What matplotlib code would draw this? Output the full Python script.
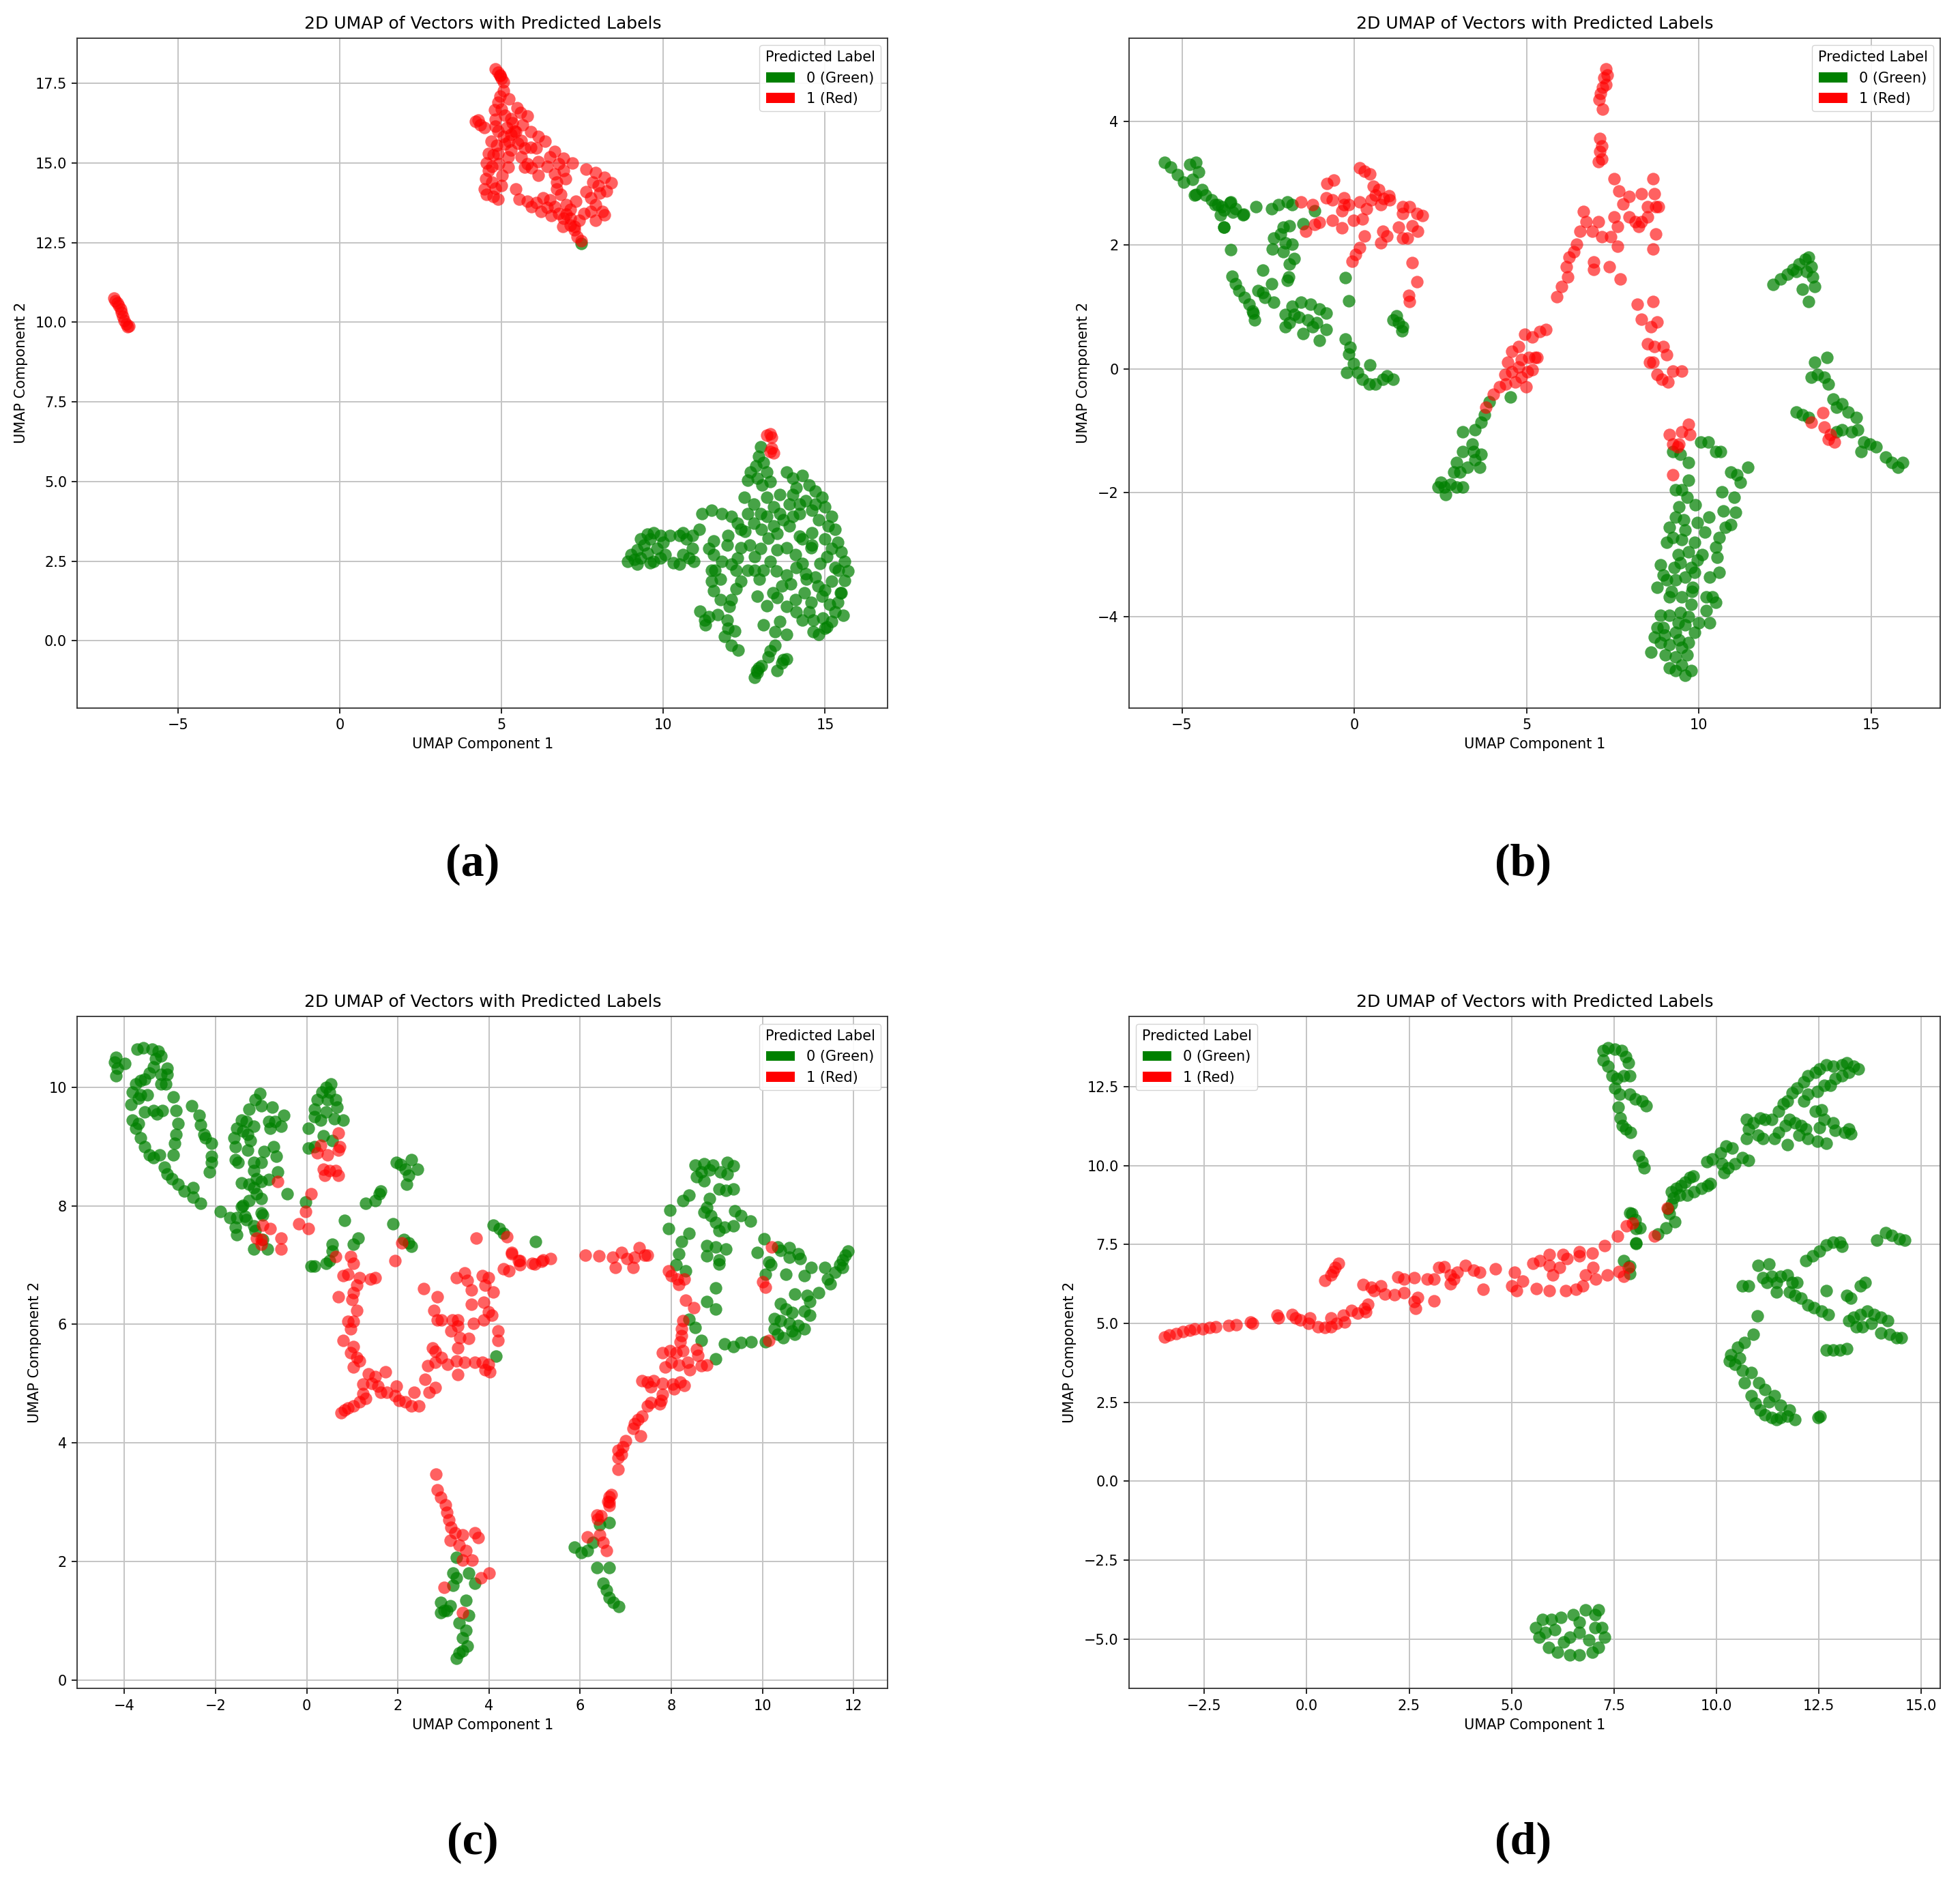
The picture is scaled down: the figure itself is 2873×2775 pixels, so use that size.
import numpy as np
import matplotlib
matplotlib.use("Agg")
import matplotlib.pyplot as plt
from matplotlib.patches import Patch

# ---------------- DATA ----------------
TITLE = "2D UMAP of Vectors with Predicted Labels"
XLABEL = "UMAP Component 1"
YLABEL = "UMAP Component 2"
LEGEND_TITLE = "Predicted Label"
LEGEND_LABELS = ["0 (Green)", "1 (Red)"]
CAPTIONS = ["(a)", "(b)", "(c)", "(d)"]

# ---- panel (a) ----
a_red = [
    (-6.98, 10.75), (-6.93, 10.68), (-6.88, 10.6), (-6.83, 10.52), (-6.78, 10.42), (-6.74, 10.3),
    (-6.7, 10.18), (-6.66, 10.05), (-6.6, 9.95), (-6.55, 9.85), (-6.52, 9.88),
    (4.8, 17.95), (4.88, 17.85), (4.95, 17.75), (5.0, 17.65), (5.05, 17.55), (4.95, 17.76),
    (5.06, 17.26), (4.95, 17.09), (5.23, 17.01), (4.78, 16.66), (5.48, 16.73), (5.58, 16.59),
    (5.79, 16.48), (4.28, 16.34), (4.46, 16.12), (4.81, 16.37), (4.81, 16.16), (5.16, 16.12),
    (5.34, 16.26), (5.65, 16.19), (5.44, 15.98), (5.9, 15.98), (6.14, 15.84), (6.35, 15.69),
    (4.67, 15.69), (4.85, 15.55), (5.06, 15.84), (5.23, 15.69), (5.51, 15.62), (5.72, 15.48),
    (6.07, 15.48), (5.3, 15.41), (4.74, 15.26), (4.53, 15.01), (4.6, 14.76), (4.92, 14.98),
    (5.2, 14.87), (5.02, 14.62), (5.79, 14.98), (5.72, 14.87), (6.14, 15.05), (6.14, 14.62),
    (5.93, 14.84), (6.49, 15.19), (6.63, 15.37), (6.91, 15.16), (7.19, 15.01), (6.77, 14.98),
    (6.91, 14.76), (6.63, 14.66), (6.98, 14.51), (7.62, 14.8), (7.9, 14.69), (8.18, 14.55),
    (8.39, 14.37), (7.83, 14.41), (8.25, 14.12), (8.04, 14.05), (7.76, 13.91), (7.9, 13.69),
    (8.11, 13.48), (8.18, 13.37), (7.55, 13.41), (7.76, 13.48), (4.46, 14.19), (4.53, 14.01),
    (4.74, 13.94), (4.88, 13.87), (5.44, 14.19), (5.55, 13.87), (5.93, 13.62), (6.07, 13.76),
    (6.28, 13.91), (6.49, 13.84), (6.7, 14.19), (6.84, 14.01), (6.63, 13.62), (6.77, 13.41),
    (6.91, 13.26), (7.12, 13.55), (7.12, 13.05), (7.26, 12.91), (7.33, 12.69), (7.47, 12.55),
    (6.21, 13.48), (6.53, 13.34), (7.12, 13.26), (7.4, 13.19), (4.2, 16.3), (4.35, 16.2),
    (4.9, 16.9), (5.1, 16.5), (5.4, 16.0), (4.9, 15.3), (4.7, 14.4), (5.0, 14.3),
    (5.1, 15.6), (5.3, 15.9), (5.6, 15.7), (5.9, 15.5), (4.6, 15.3), (4.7, 14.9), (4.5, 14.5),
    (4.8, 14.2), (5.2, 15.2), (5.6, 15.2), (6.4, 14.9), (6.7, 14.4), (7.0, 13.7), (7.3, 13.8),
    (7.6, 14.1), (8.0, 14.3), (7.9, 13.2), (6.9, 13.0), (6.4, 13.6), (5.8, 13.8), (4.9, 16.0),
    (5.0, 16.7), (5.3, 16.4), (7.0, 13.4), (7.25, 13.0),
    (13.2, 6.45), (13.3, 6.5), (13.35, 6.4), (13.35, 6.05), (13.4, 5.9), (13.3, 5.95),
]
a_green = [
    (7.47, 12.48),
    (8.9, 2.5), (9.0, 2.7), (9.1, 2.55), (9.2, 2.85), (9.3, 2.6), (9.4, 3.0), (9.5, 2.75),
    (9.6, 3.2), (9.7, 2.5), (9.8, 2.9), (9.9, 3.3), (10.0, 3.1), (9.3, 3.2), (9.5, 3.35),
    (9.7, 3.4), (9.9, 2.6), (10.05, 2.7), (10.3, 2.45), (10.5, 2.4), (10.6, 2.7), (10.8, 2.6),
    (10.9, 2.9), (10.7, 3.2), (10.5, 3.3), (10.6, 3.4), (10.2, 3.3), (10.95, 2.5), (10.9, 3.3),
    (9.2, 2.4), (9.6, 2.45),
    (13.0, 6.1), (12.95, 5.8), (12.85, 5.5), (12.7, 5.3), (12.6, 5.05), (13.1, 5.6), (13.2, 5.3),
    (13.3, 5.0), (12.9, 5.1), (13.05, 4.9),
    (13.8, 5.3), (14.0, 5.1), (14.1, 4.8), (14.3, 5.2), (14.5, 4.9), (14.7, 4.7), (14.9, 4.5),
    (15.0, 4.2), (15.2, 3.9), (14.4, 4.4), (14.2, 4.0), (13.9, 4.3), (13.6, 4.6), (13.4, 4.2),
    (13.2, 4.5), (14.6, 4.1), (14.8, 3.8), (13.7, 3.8), (15.3, 3.5), (15.4, 3.1), (15.5, 2.8),
    (15.6, 2.5), (15.7, 2.2), (15.6, 1.9), (15.5, 1.5), (15.4, 1.2), (15.3, 0.9), (15.2, 0.6),
    (15.0, 0.4), (14.8, 0.2),
    (11.2, 4.0), (11.5, 4.1), (11.8, 4.0), (12.1, 3.9), (12.3, 3.7), (11.1, 3.5),
    (11.55, 3.14), (11.97, 3.0), (11.55, 2.71), (11.59, 2.21), (11.76, 1.93), (11.55, 1.57),
    (11.76, 1.29), (12.11, 1.29), (12.25, 1.64), (12.04, 1.07), (11.97, 0.64), (11.9, 0.14),
    (12.11, -0.14), (12.32, -0.29), (11.27, 0.64), (11.13, 0.93), (11.69, 0.82), (12.4, 1.86),
    (12.6, 2.21), (12.96, 1.93), (12.82, 2.64), (12.53, 3.43), (12.4, 2.93), (13.24, 3.21),
    (13.52, 2.86), (13.8, 2.93), (14.08, 2.71), (14.29, 2.43), (13.8, 2.07), (13.66, 1.71),
    (13.52, 1.36), (13.8, 1.07), (14.08, 1.29), (14.36, 1.5), (14.57, 1.21), (14.29, 0.64),
    (14.64, 0.64), (14.64, 0.29), (14.92, 0.71), (15.13, 1.14), (15.2, 1.86), (15.06, 2.64),
    (15.41, 2.21), (15.48, 1.5), (15.55, 0.79), (15.06, 0.43), (13.45, 0.29), (13.8, 0.21),
    (13.31, -0.32), (13.45, -0.14), (13.24, -0.5), (13.66, -0.71), (13.8, -0.57), (12.89, -0.93),
    (12.82, -1.14), (13.03, -0.79), (13.52, -0.93), (13.38, 1.5), (13.94, 1.79), (14.43, 1.93),
    (14.78, 1.71), (14.85, 2.43), (14.57, 2.93), (14.22, 3.29), (13.1, 2.21), (12.82, 2.21),
    (12.68, 3.0), (13.03, 3.5), (13.52, 3.36), (12.25, 2.21), (11.48, 2.21), (11.48, 1.86),
    (12.0, 3.3), (12.4, 3.5), (12.6, 4.0), (12.8, 4.3), (13.0, 4.0), (12.5, 4.5), (13.4, 3.6),
    (13.9, 3.6), (14.6, 3.4), (15.0, 3.2), (14.3, 3.2),
    (14.1, 2.3), (14.4, 2.1), (14.7, 2.0), (14.9, 1.4), (14.5, 0.9), (14.1, 0.9), (13.6, 0.6),
    (13.1, 0.5), (13.2, 1.1), (12.9, 1.4), (12.3, 2.6), (12.1, 2.4), (11.8, 2.5), (11.4, 2.9),
    (13.6, 4.0), (14.0, 4.6), (14.6, 3.0), (15.2, 2.9), (15.3, 2.3), (15.0, 1.6), (13.0, 2.9),
    (13.3, 2.5), (13.5, 2.2), (12.2, 0.3), (12.0, 0.4), (11.3, 0.5), (11.4, 0.75), (13.7, -0.6),
    (12.9, -1.0), (12.95, -0.85), (15.1, 3.6), (14.7, 4.3), (14.2, 4.3), (14.0, 3.9), (12.8, 3.7),
    (13.2, 3.9),
]

# ---- panel (b) ----
b_green = [
    (-5.5, 3.34), (-5.33, 3.26), (-5.14, 3.14), (-4.96, 3.02), (-4.78, 3.3), (-4.6, 3.34),
    (-4.51, 3.18), (-4.69, 3.06), (-4.42, 2.9), (-4.6, 2.82), (-4.15, 2.73), (-3.97, 2.65),
    (-3.79, 2.57), (-3.61, 2.69), (-3.88, 2.49), (-3.52, 2.53), (-3.24, 2.49), (-3.79, 2.29),
    (-4.64, 2.81), (-4.31, 2.81), (-4.05, 2.66), (-3.85, 2.62), (-3.59, 2.7), (-3.45, 2.59),
    (-3.22, 2.5), (-2.86, 2.62), (-3.78, 2.29), (-3.59, 1.93), (-3.55, 1.5), (-3.45, 1.38),
    (-3.35, 1.27), (-3.19, 1.16), (-3.06, 1.05), (-2.96, 0.94), (-2.9, 0.79), (-2.93, 0.9),
    (-2.8, 1.27), (-2.66, 1.23), (-2.4, 1.38), (-2.34, 1.08), (-2.6, 1.16), (-2.66, 1.6),
    (-2.4, 2.59), (-2.2, 2.66), (-1.94, 2.7), (-1.81, 2.66), (-2.34, 2.11), (-2.14, 2.18),
    (-2.01, 2.04), (-1.81, 2.02), (-2.37, 1.94), (-2.07, 1.89), (-2.07, 2.29), (-1.88, 2.31),
    (-1.74, 1.78), (-1.88, 1.69), (-1.91, 1.49), (-1.94, 1.43), (-1.48, 2.35), (-1.15, 2.55),
    (-2.01, 0.88), (-1.81, 1.01), (-1.55, 1.08), (-1.28, 1.05), (-1.02, 0.97), (-0.82, 0.9),
    (-1.88, 0.75), (-1.61, 0.83), (-1.35, 0.79), (-1.09, 0.75), (-1.48, 0.57), (-1.22, 0.68),
    (-1.02, 0.46), (-0.82, 0.64), (-2.01, 0.68), (-1.74, 0.88),
    (-0.26, 1.47), (-0.16, 1.1), (-0.26, 0.48), (-0.13, 0.35), (-0.16, 0.24), (-0.03, 0.09),
    (-0.23, -0.06), (0.1, -0.06), (0.23, -0.17), (0.43, -0.24), (0.62, -0.24), (0.82, -0.17),
    (0.95, -0.11), (1.12, -0.17), (0.46, 0.06),
    (1.22, 0.86), (1.28, 0.75), (1.41, 0.68), (1.38, 0.61), (1.12, 0.79),
    (3.91, -0.53), (4.53, -0.45), (3.77, -0.74), (3.68, -0.86), (3.5, -0.98), (3.15, -1.02),
    (3.42, -1.22), (3.15, -1.34), (2.97, -1.51), (2.88, -1.67), (3.06, -1.67), (3.28, -1.59),
    (3.5, -1.47), (3.68, -1.38), (3.46, -1.34), (3.64, -1.59), (3.15, -1.91), (2.97, -1.91),
    (2.79, -1.87), (2.61, -1.91), (2.43, -1.91), (2.65, -2.03), (2.52, -1.83),
    (9.24, -1.34), (9.47, -1.38), (9.69, -1.51), (10.05, -1.18), (10.27, -1.18), (10.49, -1.34),
    (10.62, -1.34), (10.93, -1.67), (11.11, -1.71), (11.2, -1.83), (11.42, -1.59), (10.67, -1.99),
    (11.02, -2.07), (11.07, -2.32), (10.93, -2.52), (10.76, -2.56), (10.58, -2.72), (10.49, -2.88),
    (10.54, -3.04), (10.58, -3.29), (10.31, -3.37), (10.4, -3.69), (10.49, -3.77), (10.22, -3.69),
    (10.18, -2.64), (9.96, -2.48), (9.87, -2.8), (9.96, -3.09), (9.87, -3.29), (9.82, -3.53),
    (9.51, -1.95), (9.33, -1.95), (9.65, -2.07), (9.42, -2.23), (9.33, -2.4), (9.56, -2.44),
    (9.15, -2.56), (9.24, -2.72), (9.06, -2.8), (9.51, -2.76), (9.69, -2.96), (9.47, -3.13),
    (9.29, -3.21), (8.88, -3.17), (8.97, -3.33), (8.79, -3.53), (9.06, -3.41), (9.33, -3.41),
    (9.6, -3.37), (9.78, -3.21), (9.51, -3.69), (9.15, -3.69), (8.88, -3.98), (9.15, -3.98),
    (9.47, -3.94), (9.78, -3.81), (10.0, -4.1), (8.79, -4.18), (8.97, -4.18), (9.33, -4.26),
    (9.6, -4.14), (9.87, -4.26), (8.7, -4.34), (8.88, -4.42), (9.15, -4.46), (9.42, -4.38),
    (9.69, -4.42), (8.61, -4.58), (9.02, -4.62), (9.33, -4.66), (9.65, -4.62), (9.15, -4.83),
    (9.33, -4.87), (9.6, -4.95), (9.78, -4.87), (9.51, -4.79), (10.31, -4.1), (10.22, -3.9),
    (9.4, -3.0), (9.6, -2.6), (9.2, -3.6), (9.4, -4.1), (9.7, -4.0), (9.0, -4.3), (9.5, -4.5),
    (9.8, -3.6), (10.1, -3.0), (10.3, -2.4), (10.7, -2.3), (9.9, -2.2), (9.7, -1.8),
    (12.15, 1.37), (12.38, 1.45), (12.56, 1.53), (12.73, 1.61), (12.91, 1.69), (13.09, 1.77),
    (13.18, 1.81), (13.27, 1.65), (13.31, 1.49), (13.36, 1.33), (13.0, 1.29), (13.18, 1.09),
    (13.13, 1.57), (12.82, 1.57),
    (13.36, 0.11), (13.72, 0.18), (13.27, -0.13), (13.45, -0.09), (13.63, -0.13), (13.76, -0.25),
    (13.9, -0.49), (14.16, -0.57), (14.34, -0.7), (14.57, -0.78), (14.43, -1.02), (14.61, -0.98),
    (14.79, -1.18), (14.97, -1.22), (15.15, -1.26), (15.42, -1.43), (15.6, -1.51), (15.78, -1.59),
    (15.92, -1.51), (12.82, -0.7), (13.0, -0.74), (13.18, -0.78), (13.99, -1.02), (14.16, -0.98),
    (14.7, -1.34), (13.99, -0.62),
]
b_red = [
    (-1.55, 2.7), (-1.22, 2.66), (-1.41, 2.22), (-1.15, 2.33), (-1.02, 2.37), (-0.82, 2.77),
    (-0.63, 2.73), (-0.3, 2.77), (-0.63, 2.4), (-0.36, 2.28), (-0.36, 2.55), (-0.16, 2.66),
    (-0.03, 2.4), (0.16, 2.7), (0.23, 2.42), (0.36, 2.59), (0.49, 2.73), (0.62, 2.81),
    (0.76, 2.66), (1.02, 2.73), (1.41, 2.62), (1.61, 2.62), (1.81, 2.51), (1.97, 2.48),
    (1.68, 2.31), (1.84, 2.22), (1.28, 2.29), (1.41, 2.11), (1.55, 2.11), (0.82, 2.22),
    (0.95, 2.15), (0.76, 2.04), (0.3, 2.15), (0.16, 1.96), (0.03, 1.85), (-0.07, 1.74),
    (1.68, 1.72), (1.81, 1.41), (1.58, 1.19), (1.61, 1.09), (1.41, 2.51),
    (-0.8, 3.0), (-0.6, 3.05), (0.15, 3.25), (0.3, 3.2), (0.45, 3.15), (0.55, 2.95),
    (0.7, 2.9), (0.85, 2.75), (1.0, 2.8), (-0.3, 2.65),
    (7.3, 4.85), (7.35, 4.75), (7.25, 4.7), (7.2, 4.55), (7.15, 4.45), (7.3, 4.6), (7.1, 4.35),
    (7.2, 4.2), (7.13, 3.72), (7.18, 3.6), (7.13, 3.51), (7.18, 3.39), (7.09, 3.35),
    (7.54, 3.07), (7.67, 2.87), (7.98, 2.79), (8.34, 2.83), (8.66, 3.07), (8.7, 2.83),
    (8.74, 2.62), (8.52, 2.62), (8.83, 2.62), (7.8, 2.67), (7.98, 2.46), (8.16, 2.38),
    (8.34, 2.38), (8.52, 2.46), (7.54, 2.46), (7.63, 2.3), (7.45, 2.14), (7.18, 2.14),
    (7.09, 2.38), (6.91, 2.22), (6.73, 2.38), (6.64, 2.54), (6.55, 2.22), (6.46, 2.02),
    (6.37, 1.89), (6.24, 1.81), (6.15, 1.65), (6.19, 1.49), (6.01, 1.33), (5.88, 1.17),
    (7.63, 1.98), (6.95, 1.73), (6.95, 1.61), (7.4, 1.65), (7.71, 1.45), (8.74, 2.18),
    (8.66, 1.94), (8.25, 2.3),
    (8.21, 1.04), (8.66, 1.09), (8.34, 0.8), (8.61, 0.68), (8.79, 0.76), (8.52, 0.4),
    (8.7, 0.36), (8.97, 0.36), (9.06, 0.23), (8.66, 0.11), (8.79, -0.09), (8.92, -0.17),
    (9.1, -0.21), (9.24, -0.03), (9.51, -0.03), (8.57, 0.11),
    (5.56, 0.64), (5.39, 0.6), (5.16, 0.52), (4.94, 0.56), (4.76, 0.36), (4.58, 0.28),
    (4.45, 0.11), (4.38, -0.09), (4.22, -0.29), (4.4, -0.25), (4.66, -0.21), (4.85, -0.13),
    (5.03, -0.05), (5.16, -0.01), (5.25, 0.19), (5.07, 0.19), (4.98, -0.29), (4.76, 0.03),
    (4.58, -0.05), (4.85, 0.15), (5.31, 0.19), (4.04, -0.41), (3.82, -0.62),
    (9.15, -1.06), (9.51, -1.02), (9.69, -0.9), (9.74, -1.06), (9.24, -1.22), (9.38, -1.26),
    (9.42, -1.22), (9.24, -1.71),
    (13.59, -0.71), (13.27, -0.86), (13.63, -0.94), (13.76, -1.14), (13.94, -1.18), (13.81, -1.06),
]

# ---- panel (c) ----
c_green = [
    (-4.22, 10.42), (-4.19, 10.5), (-4.15, 10.32), (-4.19, 10.19), (-3.99, 10.4), (-3.72, 10.64),
    (-3.59, 10.66), (-3.39, 10.64), (-3.26, 10.61), (-3.19, 10.53), (-3.32, 10.48), (-3.36, 10.34),
    (-3.45, 10.24), (-3.55, 10.13), (-3.65, 10.11), (-3.75, 10.05), (-3.19, 10.21), (-3.06, 10.32),
    (-3.06, 10.21), (-3.09, 10.05), (-3.19, 10.05), (-3.82, 9.92), (-3.65, 9.87), (-3.49, 9.87),
    (-3.85, 9.71), (-3.69, 9.81), (-3.55, 9.58), (-3.36, 9.6), (-3.16, 9.6), (-3.29, 9.55),
    (-3.82, 9.44), (-3.69, 9.39), (-3.75, 9.31), (-3.65, 9.15), (-3.55, 8.99), (-3.45, 8.86),
    (-3.36, 8.81), (-3.22, 8.86), (-3.12, 8.65), (-3.06, 8.54), (-2.96, 8.46), (-2.82, 8.36),
    (-2.69, 8.25), (-2.49, 8.3), (-2.49, 8.14), (-2.33, 8.04), (-2.92, 9.84), (-2.86, 9.6),
    (-2.82, 9.39), (-2.86, 9.2), (-2.89, 9.05), (-2.92, 8.86), (-2.52, 9.68), (-2.36, 9.52),
    (-2.33, 9.36), (-2.26, 9.2), (-2.23, 9.15), (-2.09, 9.05), (-2.09, 8.83), (-2.09, 8.73),
    (-2.13, 8.57),
    (-1.89, 7.9), (-1.69, 7.8), (-1.53, 7.8), (-1.56, 7.64), (-1.53, 7.51), (-1.36, 7.82),
    (-1.33, 7.77), (-1.16, 7.66), (-1.16, 7.27), (-1.4, 8.01), (-1.26, 8.09), (-0.99, 7.88),
    (-1.13, 7.58), (-0.96, 7.43), (-0.86, 7.27), (-1.56, 8.78), (-1.5, 8.73), (-1.56, 8.99),
    (-1.59, 9.15), (-1.53, 9.31), (-1.43, 9.44), (-1.33, 9.42), (-1.4, 9.26), (-1.3, 9.2),
    (-1.23, 9.1), (-1.3, 8.94), (-1.26, 9.63), (-1.13, 9.79), (-1.03, 9.89), (-0.99, 9.68),
    (-0.76, 9.66), (-1.16, 9.34), (-0.83, 9.42), (-0.7, 9.42), (-0.56, 9.34), (-0.5, 9.52),
    (-0.8, 9.31), (-0.73, 8.99), (-0.93, 8.91), (-1.16, 8.73), (-0.99, 8.73), (-0.66, 8.83),
    (-0.63, 8.57), (-1.16, 8.59), (-1.1, 8.46), (-1.43, 8.38), (-1.26, 8.36), (-1.16, 8.3),
    (-0.99, 8.41), (-0.83, 8.44), (-1.1, 8.2), (-0.99, 8.12), (-1.43, 7.98), (-0.96, 7.85),
    (-0.43, 8.2),
    (-0.03, 8.06), (0.03, 9.31), (0.17, 8.99), (0.03, 8.97), (0.17, 9.63), (0.23, 9.79),
    (0.33, 9.92), (0.43, 10.0), (0.53, 10.05), (0.5, 9.92), (0.46, 9.79), (0.63, 9.79),
    (0.66, 9.66), (0.8, 9.44), (0.6, 9.47), (0.43, 9.58), (0.3, 9.44), (0.37, 9.18),
    (0.56, 9.1), (0.17, 9.5),
    (0.83, 7.75), (1.3, 8.04), (1.5, 8.09), (1.6, 8.2), (1.63, 8.25), (1.89, 7.69),
    (2.06, 8.7), (2.16, 8.62), (2.29, 8.78), (2.43, 8.62), (2.23, 8.51), (2.19, 8.36),
    (1.96, 8.73), (2.13, 7.43), (2.23, 7.37), (2.29, 7.32), (1.03, 7.35), (1.13, 7.45),
    (0.56, 7.35), (0.56, 7.24), (0.5, 7.08), (0.17, 6.98), (0.1, 6.98), (0.43, 7.03),
    (4.09, 7.67), (4.22, 7.61), (4.32, 7.53), (5.02, 7.4), (4.15, 5.46),
    (8.52, 8.69), (8.71, 8.71), (8.91, 8.69), (9.23, 8.73), (9.36, 8.67), (8.65, 8.57),
    (8.84, 8.61), (8.55, 8.49), (8.71, 8.42), (9.07, 8.57), (9.23, 8.53), (9.04, 8.28),
    (9.2, 8.26), (9.36, 8.28), (8.39, 8.18), (8.26, 8.09), (8.84, 8.12), (8.78, 7.97),
    (8.71, 7.89), (8.87, 7.83), (8.97, 7.72), (9.04, 7.58), (9.17, 7.64), (9.36, 7.66),
    (9.39, 7.91), (9.52, 7.83), (9.74, 7.74), (7.97, 7.93), (7.94, 7.62), (8.39, 7.54),
    (8.23, 7.4), (8.16, 7.19), (8.1, 7.0), (8.32, 6.9), (8.78, 7.33), (8.97, 7.31),
    (9.2, 7.27), (8.78, 7.15), (9.04, 7.09), (9.04, 7.02), (8.97, 6.61), (8.78, 6.39),
    (8.97, 6.26), (8.39, 6.08), (8.52, 5.95), (8.65, 5.73), (8.97, 5.42), (9.17, 5.67),
    (9.36, 5.63), (9.52, 5.69), (9.75, 5.71), (10.07, 5.71),
    (10.04, 7.44), (9.88, 7.21), (10.33, 7.31), (10.4, 7.25), (10.59, 7.29), (10.59, 7.13),
    (10.78, 7.19), (10.82, 7.11), (10.14, 7.05), (10.18, 7.0), (10.07, 6.84), (10.52, 6.84),
    (10.91, 6.82), (11.07, 6.96), (11.36, 6.96), (11.42, 6.76), (11.59, 6.88), (11.69, 7.0),
    (11.75, 7.09), (11.82, 7.17), (11.88, 7.23), (11.75, 6.96), (11.49, 6.68), (10.71, 6.51),
    (10.97, 6.49), (11.23, 6.53), (11.04, 6.39), (10.91, 6.22), (11.04, 6.16), (10.4, 6.35),
    (10.52, 6.26), (10.65, 6.2), (10.26, 6.1), (10.4, 6.06), (10.59, 6.02), (10.78, 5.98),
    (10.91, 5.93), (10.26, 5.93), (10.33, 5.83), (10.46, 5.77), (10.65, 5.89), (10.71, 5.83),
    (3.28, 2.07), (3.56, 1.81), (3.69, 1.64), (3.28, 1.73), (3.21, 1.6), (2.94, 1.31),
    (3.01, 1.18), (3.15, 1.26), (3.49, 1.35), (3.56, 1.09), (3.35, 0.97), (3.49, 0.84),
    (3.42, 0.71), (3.53, 0.58), (3.35, 0.46), (3.28, 0.37), (3.42, 0.5), (3.21, 1.81),
    (3.08, 1.18), (2.94, 1.14),
    (5.88, 2.24), (6.02, 2.15), (6.16, 2.19), (6.27, 2.32), (6.43, 2.62), (6.63, 2.66),
    (6.36, 1.9), (6.63, 1.9), (6.5, 1.64), (6.57, 1.52), (6.63, 1.39), (6.73, 1.31), (6.84, 1.24),
]
c_red = [
    (-0.63, 8.41), (-0.96, 7.67), (-0.8, 7.61), (-0.99, 7.43), (-0.99, 7.35), (-0.56, 7.45),
    (-0.56, 7.27), (-1.1, 7.45),
    (0.7, 9.23), (0.3, 9.02), (0.23, 8.89), (0.46, 8.86), (0.7, 8.94), (0.73, 8.99),
    (0.37, 8.62), (0.5, 8.59), (0.63, 8.59), (0.7, 8.51), (0.4, 8.51), (0.1, 8.2),
    (-0.03, 7.9), (-0.17, 7.69), (0.03, 7.61), (1.93, 7.08), (2.09, 7.37), (0.63, 7.14),
    (4.39, 7.48), (3.72, 7.45), (4.49, 7.21), (4.65, 7.08), (4.68, 7.0), (4.95, 7.03),
    (5.15, 7.06), (5.35, 7.11), (4.5, 7.19), (4.67, 7.07), (5.0, 7.02), (5.18, 7.09),
    (4.31, 6.94), (4.44, 6.9),
    (0.96, 7.14), (1.03, 7.03), (0.9, 6.84), (0.8, 6.82), (1.16, 6.79), (1.1, 6.66),
    (1.4, 6.76), (1.5, 6.79), (1.03, 6.53), (0.7, 6.47), (1.0, 6.42), (1.1, 6.23),
    (0.9, 6.05), (1.03, 6.05), (0.96, 5.92), (0.8, 5.73), (1.03, 5.62), (0.96, 5.52),
    (1.1, 5.44), (1.16, 5.38), (1.03, 5.28), (1.36, 5.17), (1.5, 5.12), (1.73, 5.2),
    (1.23, 4.99), (1.43, 5.01), (1.56, 4.96), (1.63, 4.85), (1.23, 4.83), (1.16, 4.69),
    (1.03, 4.62), (0.9, 4.59), (0.76, 4.51), (0.83, 4.56), (1.3, 4.75), (1.76, 4.85),
    (1.96, 4.96), (1.93, 4.8), (2.03, 4.72), (2.16, 4.69), (2.29, 4.62), (2.46, 4.62),
    (2.36, 4.85), (2.59, 5.07), (2.69, 4.85), (2.82, 4.93), (2.66, 5.3), (2.82, 5.36),
    (2.96, 5.44), (3.09, 5.33), (3.29, 5.38), (3.46, 5.36), (3.69, 5.36), (3.92, 5.23),
    (3.99, 5.33), (3.32, 5.15), (2.76, 5.6), (2.82, 5.54), (2.86, 6.07), (2.79, 6.23),
    (2.56, 6.6), (2.86, 6.47), (2.96, 6.07), (3.16, 5.89), (3.32, 6.07), (3.36, 5.78),
    (3.32, 5.6), (3.29, 6.79), (3.46, 6.87), (3.52, 6.74), (3.62, 6.58), (3.62, 6.34),
    (3.66, 6.02), (3.86, 6.82), (3.99, 6.79), (3.92, 6.66), (4.09, 6.55), (3.89, 6.37),
    (3.99, 6.21), (4.06, 6.15), (4.19, 5.89), (4.19, 5.73), (3.86, 5.36), (3.56, 5.76),
    (3.89, 6.07), (3.19, 6.07), (3.32, 5.97), (4.02, 5.2),
    (6.12, 7.17), (6.41, 7.15), (6.71, 7.13), (6.77, 6.96), (6.9, 7.21), (7.03, 7.11),
    (7.16, 6.96), (7.19, 7.13), (7.29, 7.29), (7.42, 7.17), (7.48, 7.17),
    (7.94, 6.9), (8.0, 6.82), (8.13, 6.76), (8.29, 6.76), (8.16, 6.67), (8.32, 6.41),
    (8.49, 6.28), (8.26, 6.06), (8.23, 5.93), (8.23, 5.81), (8.2, 5.71), (7.81, 5.52),
    (7.97, 5.56), (8.1, 5.52), (8.26, 5.56), (8.0, 5.36), (8.16, 5.32), (8.36, 5.36),
    (8.55, 5.58), (8.58, 5.48), (8.65, 5.3), (8.78, 5.32), (7.87, 5.28), (8.4, 5.23),
    (7.35, 5.05), (7.48, 5.03), (7.61, 5.05), (7.55, 4.95), (7.81, 5.01), (8.03, 4.99),
    (8.19, 5.03), (8.29, 4.97), (8.06, 4.91), (7.81, 4.82), (7.78, 4.72), (7.55, 4.68),
    (7.48, 4.62), (7.75, 4.66), (7.35, 4.45), (7.26, 4.39), (7.19, 4.33), (7.16, 4.25),
    (7.32, 4.12), (7.0, 4.04), (6.93, 3.94), (6.83, 3.88), (6.9, 3.81), (6.83, 3.75),
    (6.83, 3.55), (6.64, 3.09), (6.61, 3.01), (6.64, 2.95), (6.45, 2.77), (6.38, 2.72),
    (10.2, 7.31), (10.07, 6.63), (10.01, 6.72), (10.14, 5.73),
    (2.83, 3.47), (2.87, 3.21), (2.94, 3.08), (3.04, 2.96), (3.08, 2.83), (3.12, 2.7),
    (3.17, 2.58), (3.26, 2.49), (3.15, 2.36), (3.35, 2.28), (3.49, 2.19), (3.69, 2.49),
    (3.76, 2.41), (3.42, 2.45), (3.42, 2.03), (3.63, 2.03), (4.0, 1.81), (3.83, 1.73),
    (3.01, 1.56), (3.42, 1.14),
    (6.16, 2.42), (6.43, 2.45), (6.5, 2.32), (6.57, 2.19), (6.36, 2.79), (6.63, 3.0), (6.68, 3.13),
]

# ---- panel (d) ----
d_red = [
    (-3.47, 4.57), (-3.35, 4.64), (-3.19, 4.68), (-3.02, 4.73), (-2.86, 4.78), (-2.74, 4.82),
    (-2.54, 4.82), (-2.38, 4.86), (-2.22, 4.88), (-1.9, 4.93), (-1.73, 4.96), (-1.37, 5.05),
    (-1.33, 5.0), (-0.73, 5.25), (-0.69, 5.18), (-0.36, 5.29), (-0.28, 5.18), (-0.16, 5.11),
    (0.08, 5.18), (0.04, 5.0), (0.28, 4.89), (0.44, 4.86), (0.6, 4.89), (0.73, 5.0),
    (0.6, 5.18), (0.89, 5.25), (0.93, 5.04), (1.09, 5.4), (1.25, 5.32), (1.41, 5.47),
    (1.49, 5.61), (1.45, 5.36), (0.44, 6.36), (0.6, 6.54), (0.69, 6.76), (0.77, 6.9),
    (0.65, 6.65), (1.37, 6.22), (1.57, 6.15), (1.81, 6.19), (1.65, 6.04), (1.9, 5.93),
    (2.14, 5.9), (2.22, 6.47), (2.38, 6.4), (2.62, 6.44), (2.94, 6.4), (3.1, 6.4),
    (2.62, 5.68), (2.66, 5.47), (2.7, 5.83), (2.38, 5.97), (3.1, 5.72), (3.23, 6.76),
    (3.35, 6.8), (3.51, 6.54), (3.59, 6.4), (3.67, 6.62), (3.51, 6.26), (3.87, 6.83),
    (4.07, 6.69), (4.23, 6.62), (4.31, 6.08), (4.6, 6.72), (5.08, 6.62), (5.0, 6.19),
    (5.12, 6.04), (5.28, 6.33), (5.52, 6.9), (5.69, 6.98), (5.93, 6.83), (6.01, 6.54),
    (6.17, 6.76), (5.6, 6.11), (5.93, 6.04), (6.33, 6.04), (6.57, 6.08), (6.73, 6.19),
    (6.81, 6.54), (6.98, 6.76), (7.06, 6.4), (7.34, 6.54), (7.62, 6.65), (7.86, 6.76),
    (5.93, 7.19), (6.25, 7.19), (6.65, 7.26), (6.97, 7.22), (7.27, 7.46), (7.58, 7.77),
    (7.8, 8.09), (7.96, 8.17), (6.66, 7.14), (6.36, 7.06), (8.49, 7.77), (8.8, 8.65),
    (7.73, 6.5),
]
d_green = [
    (7.88, 6.82), (7.88, 8.49), (8.03, 8.01), (8.03, 7.54), (7.73, 6.98), (7.88, 6.58),
    (7.24, 13.64), (7.35, 13.74), (7.52, 13.69), (7.68, 13.64), (7.79, 13.44), (7.85, 13.25),
    (7.24, 13.34), (7.35, 13.15), (7.46, 12.85), (7.57, 12.75), (7.74, 12.85), (7.88, 12.85),
    (7.52, 12.45), (7.63, 12.25), (7.88, 12.25), (8.02, 12.1), (8.18, 12.05), (8.29, 11.9),
    (7.6, 11.85), (7.66, 11.51), (7.71, 11.26), (7.79, 11.16), (7.91, 11.06), (8.1, 10.31),
    (8.18, 10.11), (8.24, 9.92),
    (8.82, 8.62), (8.85, 8.47), (8.99, 8.22), (8.77, 8.03), (8.57, 7.83), (7.93, 8.47),
    (8.02, 8.28), (8.13, 8.03), (8.04, 7.53), (8.91, 9.17), (9.02, 9.27), (9.13, 9.37),
    (9.24, 9.47), (9.35, 9.62), (9.43, 9.67), (9.29, 9.07), (9.46, 9.17), (9.63, 9.27),
    (9.79, 9.37), (9.85, 9.42), (8.96, 8.97), (8.91, 8.77), (9.1, 9.07), (9.77, 10.11),
    (9.91, 10.21), (10.1, 10.41), (10.13, 10.06), (10.18, 9.77), (10.29, 9.92), (10.46, 10.06),
    (10.63, 10.26), (10.79, 10.16), (10.24, 10.61), (10.38, 10.56), (10.74, 11.46), (10.79, 11.16),
    (10.74, 10.86), (10.91, 11.36), (11.07, 11.51), (11.18, 11.46), (11.02, 10.96), (11.13, 10.86),
    (11.35, 11.46), (11.52, 11.71), (11.63, 11.95), (11.74, 12.05), (11.85, 12.3), (11.96, 12.45),
    (12.13, 12.65), (12.24, 12.85), (12.41, 12.95), (12.52, 13.05), (12.68, 13.2), (12.85, 13.15),
    (13.07, 13.2), (13.18, 13.25), (13.35, 13.15), (13.46, 13.05), (13.24, 12.95), (13.07, 12.85),
    (12.9, 12.75), (12.79, 12.55), (12.63, 12.55), (12.46, 12.35), (12.24, 12.25), (12.13, 12.05),
    (12.41, 11.71), (12.57, 11.76), (12.63, 11.46), (12.52, 11.21), (12.85, 11.36), (12.9, 11.11),
    (13.13, 11.06), (13.24, 11.16), (13.29, 11.01), (11.91, 11.36), (12.07, 11.26), (12.18, 11.16),
    (12.02, 10.96), (11.74, 10.66), (11.52, 11.06), (11.41, 10.86), (12.24, 10.86), (12.46, 10.76),
    (12.68, 10.71), (11.79, 11.46), (11.68, 11.26),
    (13.91, 7.63), (14.13, 7.88), (14.29, 7.78), (14.46, 7.68), (14.6, 7.63),
    (12.18, 6.98), (12.35, 7.13), (12.52, 7.28), (12.68, 7.48), (12.85, 7.58), (13.02, 7.58),
    (13.07, 7.43),
    (10.63, 6.19), (10.79, 6.19), (11.02, 6.83), (11.29, 6.88), (11.13, 6.44), (11.24, 6.29),
    (11.35, 6.49), (11.46, 6.29), (11.57, 6.49), (11.74, 6.54), (11.85, 6.29), (11.96, 6.29),
    (11.79, 6.0), (11.91, 5.89), (12.07, 5.79), (12.24, 5.59), (12.38, 5.49), (11.46, 6.0),
    (11.0, 5.24),
    (12.68, 6.04), (13.18, 5.89), (13.29, 5.79), (13.52, 6.19), (13.63, 6.29), (13.24, 5.09),
    (13.35, 5.19), (13.52, 5.29), (13.68, 5.39), (13.85, 5.29), (14.02, 5.19), (14.18, 5.09),
    (13.41, 4.9), (13.57, 4.9), (13.79, 5.0), (14.02, 4.7), (14.24, 4.65), (14.4, 4.55),
    (14.52, 4.55), (12.57, 5.39), (12.74, 5.29), (12.68, 4.15), (12.85, 4.15), (13.02, 4.15),
    (13.18, 4.2),
    (10.91, 4.65), (10.68, 4.4), (10.52, 4.25), (10.35, 4.0), (10.32, 3.8), (10.46, 3.7),
    (10.57, 3.9), (10.63, 3.5), (10.68, 3.11), (10.85, 3.45), (11.04, 3.11), (10.85, 2.71),
    (10.96, 2.46), (11.07, 2.26), (11.18, 2.11), (11.35, 2.01), (11.46, 1.96), (11.57, 2.01),
    (11.74, 2.06), (11.91, 1.96), (11.29, 2.51), (11.41, 2.71), (11.57, 2.41), (11.79, 2.26),
    (11.18, 2.91), (12.49, 2.01), (12.54, 2.06),
    (5.75, -4.39), (5.59, -4.63), (5.67, -4.94), (5.9, -5.26), (6.13, -5.42), (6.43, -5.5),
    (6.66, -5.5), (6.97, -5.42), (7.12, -5.26), (7.27, -4.94), (7.2, -4.63), (7.04, -4.23),
    (6.81, -4.07), (6.51, -4.23), (6.2, -4.31), (5.98, -4.39), (6.43, -4.94), (6.66, -4.79),
    (6.28, -5.1), (6.89, -5.02), (7.04, -4.63), (5.83, -4.79), (6.05, -4.71), (6.66, -4.47),
    (7.12, -4.07),
]

# axis limits and ticks
XLIMS = [(-8.11, 16.94), (-6.54, 17.01), (-5.03, 12.75), (-4.34, 15.47)]
YLIMS = [(-2.11, 18.93), (-5.48, 5.35), (-0.14, 11.19), (-6.57, 14.72)]
XTICKS = [[-5, 0, 5, 10, 15], [-5, 0, 5, 10, 15], [-4, -2, 0, 2, 4, 6, 8, 10, 12],
          [-2.5, 0.0, 2.5, 5.0, 7.5, 10.0, 12.5, 15.0]]
YTICKS = [[0.0, 2.5, 5.0, 7.5, 10.0, 12.5, 15.0, 17.5], [-4, -2, 0, 2, 4], [0, 2, 4, 6, 8, 10],
          [-5.0, -2.5, 0.0, 2.5, 5.0, 7.5, 10.0, 12.5]]
TICKFMT = [("{:.0f}", "{:.1f}"), ("{:.0f}", "{:.0f}"), ("{:.0f}", "{:.0f}"), ("{:.1f}", "{:.1f}")]
LEGEND_LOC = ["upper right", "upper right", "upper right", "upper left"]

PANELS = [(a_green, a_red), (b_green, b_red), (c_green, c_red), (d_green, d_red)]

# ---------------- LAYOUT ----------------
W, H = 2873, 2775
fig = plt.figure(figsize=(W / 100, H / 100), dpi=100)
fig.patch.set_facecolor("white")

boxes = [
    (0.0395, 0.626, 0.4135, 0.354),
    (0.576, 0.626, 0.414, 0.354),
    (0.0395, 0.108, 0.4135, 0.355),
    (0.576, 0.108, 0.414, 0.355),
]
cap_pos = [(0.241, 0.5434), (0.777, 0.5434), (0.241, 0.0267), (0.777, 0.0267)]

TICK_FS = 15
TITLE_FS = 18
LABEL_FS = 15

for i, (green, red) in enumerate(PANELS):
    ax = fig.add_axes(boxes[i])
    g = np.array(green)
    r = np.array(red)
    ax.scatter(g[:, 0], g[:, 1], s=175, c="green", alpha=0.72, linewidths=0, zorder=3)
    ax.scatter(r[:, 0], r[:, 1], s=175, c="red", alpha=0.62, linewidths=0, zorder=3)
    ax.set_xlim(*XLIMS[i])
    ax.set_ylim(*YLIMS[i])
    fx, fy = TICKFMT[i]
    ax.set_xticks(XTICKS[i])
    ax.set_xticklabels([fx.format(v).replace("-", "\u2212") for v in XTICKS[i]])
    ax.set_yticks(YTICKS[i])
    ax.set_yticklabels([fy.format(v).replace("-", "\u2212") for v in YTICKS[i]])
    ax.tick_params(labelsize=TICK_FS, length=6, width=1.2, pad=5)
    ax.grid(True, color="#c4c4c4", linewidth=1.4, zorder=0)
    ax.set_axisbelow(True)
    for sp in ax.spines.values():
        sp.set_linewidth(1.3)
        sp.set_color("#333333")
    ax.set_title(TITLE, fontsize=TITLE_FS, pad=10)
    ax.set_xlabel(XLABEL, fontsize=LABEL_FS, labelpad=6)
    ax.set_ylabel(YLABEL, fontsize=LABEL_FS, labelpad=8)
    handles = [Patch(facecolor="green", label=LEGEND_LABELS[0]),
               Patch(facecolor="red", label=LEGEND_LABELS[1])]
    ax.legend(handles=handles, title=LEGEND_TITLE, loc=LEGEND_LOC[i], fontsize=15,
              title_fontsize=15, framealpha=0.9, edgecolor="#d0d0d0")
    fig.text(cap_pos[i][0], cap_pos[i][1], CAPTIONS[i], ha="center", va="center",
             fontsize=49, fontweight="bold", family=["Liberation Serif", "DejaVu Serif"])

fig.savefig("out.png", dpi=100, facecolor="white")
